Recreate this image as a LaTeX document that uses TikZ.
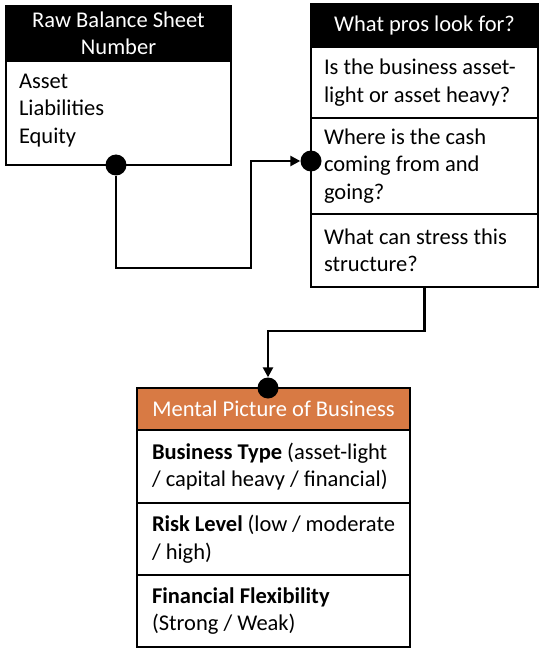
\documentclass[tikz,border=0pt]{standalone}
\usepackage{fontspec}
\setmainfont{Carlito}
\usetikzlibrary{arrows.meta}
\definecolor{mentalorange}{RGB}{216,122,68}
\tikzset{
  % black or coloured title bar of a box
  boxhead/.style={draw=black, line width=2pt, fill=black, text=white, anchor=north west,
    align=center, inner sep=0pt, outer sep=0pt},
  % one row of a box
  boxcell/.style={draw=black, line width=2pt, anchor=north west, align=flush left,
    inner xsep=13pt, inner ysep=0pt, outer sep=0pt},
  joint/.style={circle, fill=black, inner sep=0pt, minimum size=21pt},
  link/.style={line width=2.4pt, -{Triangle[length=10pt,width=10pt]}},
}

\begin{document}
\begin{tikzpicture}[x=1pt,y=-1pt,font=\fontsize{22.5}{27.5}\selectfont]
\useasboundingbox (0,0) rectangle (544,652);

% raw numbers
\node[boxhead, minimum width=225pt, minimum height=55pt] (rawhead) at (6,6) {Raw Balance Sheet\\Number};
\node[boxcell, minimum width=225pt, minimum height=104pt, text width=199pt, text depth=64pt] (rawbody) at (rawhead.south west) {Asset\\Liabilities\\Equity};

% questions
\node[boxhead, minimum width=227pt, minimum height=43pt] (proshead) at (311,4) {What pros look for?};
\node[boxcell, minimum width=227pt, minimum height=71pt, text width=201pt] (prosa) at (proshead.south west) {Is the business asset-\\light or asset heavy?};
\node[boxcell, minimum width=227pt, minimum height=96pt, text width=201pt] (prosb) at (prosa.south west) {Where is the cash\\coming from and\\going?};
\node[boxcell, minimum width=227pt, minimum height=73pt, text width=201pt] (prosc) at (prosb.south west) {What can stress this\\structure?};

% result
\node[boxhead, fill=mentalorange, minimum width=273pt, minimum height=42pt] (mentalhead) at (137,388) {Mental Picture of Business};
\node[boxcell, inner xsep=15pt, minimum width=273pt, minimum height=73pt, text width=243pt] (mentala) at (mentalhead.south west) {\textbf{Business Type} (asset-light\\/ capital heavy / financial)};
\node[boxcell, inner xsep=15pt, minimum width=273pt, minimum height=72pt, text width=243pt] (mentalb) at (mentala.south west) {\textbf{Risk Level} (low / moderate\\/ high)};
\node[boxcell, inner xsep=15pt, minimum width=273pt, minimum height=72pt, text width=243pt] (mentalc) at (mentalb.south west) {\textbf{Financial Flexibility}\\(Strong / Weak)};

% joints and links
\node[joint] (rawdot) at ([xshift=-2.5pt]rawbody.south) {};
\node[joint] (prosdot) at ([yshift=5pt]prosb.west) {};
\node[joint] (mentaldot) at ([xshift=-5.5pt]mentalhead.north) {};
\coordinate (turnA) at (251,268);
\coordinate (turnB) at (268,331);

\draw[link] (rawdot.south) |- (turnA) |- (prosdot.west);
\draw[link] (prosc.south) |- (turnB) -- (mentaldot.north);

\end{tikzpicture}
\end{document}
